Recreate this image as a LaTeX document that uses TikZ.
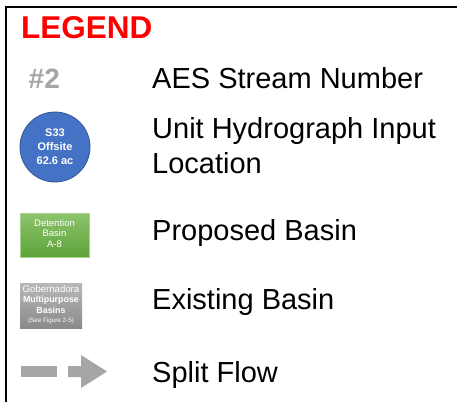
\documentclass[tikz,border=0pt]{standalone}
\usepackage{fontspec}
\setmainfont{Liberation Sans}
\definecolor{legendred}{HTML}{FF0000}
\definecolor{streamgray}{HTML}{A6A6A6}
\definecolor{hydroblue}{HTML}{4472C4}
\definecolor{hydroedge}{HTML}{2F5597}
\definecolor{greentop}{HTML}{8CC46C}
\definecolor{greenbot}{HTML}{5EA23A}
\definecolor{greenedge}{HTML}{A9D18E}
\definecolor{graytop}{HTML}{B8B8B8}
\definecolor{graybot}{HTML}{8A8A8A}
\definecolor{flowgray}{HTML}{A6A6A6}
\tikzset{
  lbl/.style={inner sep=0pt, anchor=base west, text=black,
    font=\fontsize{29}{35}\selectfont},
  symtext/.style={text=white, align=center, inner sep=0pt},
  flowpart/.style={fill=flowgray, draw=none},
}
\begin{document}
\begin{tikzpicture}[x=1pt, y=-1pt]
  \useasboundingbox (0,0) rectangle (457,402);
  \fill[white] (0,0) rectangle (457,402);
  % frame (top and left edges)
  \draw[line width=2.6pt] (6,402) -- (6,7) -- (457,7);

  % title
  \node[inner sep=0pt, anchor=base west, text=legendred,
        font=\bfseries\fontsize{31.5}{36}\selectfont] (title) at (21,38) {LEGEND};

  % stream number
  \node[inner sep=0pt, anchor=base west, text=streamgray,
        font=\bfseries\fontsize{28}{32}\selectfont] (num) at (28.5,88) {\#2};
  \node[lbl] (numlbl) at (152,88) {AES Stream Number};

  % unit hydrograph input location
  \node[circle, minimum size=70pt, inner sep=0pt, fill=hydroblue,
        draw=hydroedge, line width=0.8pt] (uh) at (55,147) {};
  \node[symtext, font=\bfseries\fontsize{11}{14}\selectfont] (uhtext) at (55,146.5)
        {S33\\Offsite\\62.6 ac};
  \node[lbl, anchor=north west, align=left] (uhlbl) at (152,117)
        {Unit Hydrograph Input\\Location};

  % proposed basin
  \node[rectangle, minimum width=69pt, minimum height=44pt, inner sep=0pt,
        top color=greentop, bottom color=greenbot, draw=greenedge,
        line width=0.6pt] (pb) at (54.5,235) {};
  \node[symtext, font=\fontsize{9.5}{10.3}\selectfont] (pbtext) at (54.5,233.5)
        {Detention\\Basin\\A-8};
  \node[lbl] (pblbl) at (152,240) {Proposed Basin};

  % existing basin
  \node[rectangle, minimum width=62pt, minimum height=45pt, inner sep=0pt,
        top color=graytop, bottom color=graybot, draw=none] (eb) at (51,305.5) {};
  \node[symtext, font=\fontsize{9.6}{10.4}\selectfont] (ebtext) at (51,304.5)
        {Gobernadora\\{\bfseries\fontsize{8.9}{10.4}\selectfont Multipurpose}\\
         {\bfseries\fontsize{8.9}{10.4}\selectfont Basins}\\[-1.5pt]
         {\fontsize{6.3}{7}\selectfont(See Figure 2-5)}};
  \node[lbl] (eblbl) at (152,309) {Existing Basin};

  % split flow
  \coordinate (sf) at (21,371.5);
  \fill[flowpart] (sf) ++(0,-5.5) rectangle ++(36,11);
  \fill[flowpart] (68,366) -- (81,366) -- (81,355) -- (107,371.5)
        -- (81,388) -- (81,377) -- (68,377) -- cycle;
  \node[lbl] (sflbl) at (152,382) {Split Flow};
\end{tikzpicture}
\end{document}
